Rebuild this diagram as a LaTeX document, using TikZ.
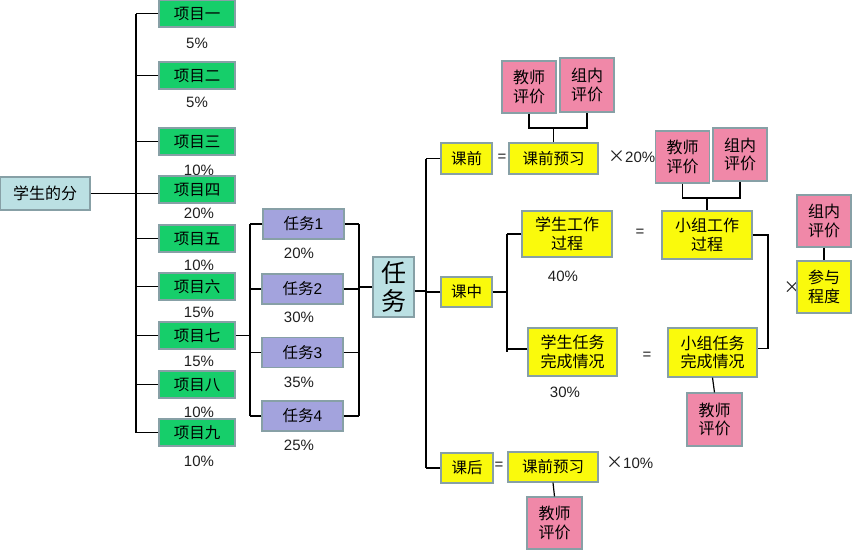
\documentclass[tikz,border=0pt]{standalone}
\usepackage{fontspec}
\setmainfont{Liberation Sans}
\newfontfamily\cjk{Noto Sans CJK SC}
\definecolor{greenc}{RGB}{22,206,106}
\definecolor{yellowc}{RGB}{250,250,12}
\definecolor{pinkc}{RGB}{240,136,168}
\definecolor{purplec}{RGB}{163,163,221}
\definecolor{bluec}{RGB}{187,224,227}
\definecolor{bordc}{RGB}{135,160,166}
\newcommand{\timessym}{{\cjk\fontsize{17}{18}\selectfont ×}}
\tikzset{
  boxbase/.style={draw=bordc, line width=1.1pt, inner sep=0pt, align=center,
    font=\fontsize{15.5}{18.5}\selectfont\cjk},
  gbox/.style={boxbase, fill=greenc, minimum width=76, minimum height=27},
  tbox/.style={boxbase, fill=purplec, minimum width=81, minimum height=30},
  ybox/.style={boxbase, fill=yellowc},
  pbox/.style={boxbase, fill=pinkc, minimum width=54, minimum height=52,
    font=\fontsize{16}{18.5}\selectfont\cjk},
  bbox/.style={boxbase, fill=bluec},
  pct/.style={inner sep=0pt, font=\fontsize{15}{18}\selectfont, text=black!88},
  conn/.style={line width=1.2pt, black},
}
\begin{document}
\begin{tikzpicture}[x=1pt,y=-1pt]
\fill[white] (0,0) rectangle (852,550);
\useasboundingbox (0,0) rectangle (852,550);

% percentages for projects (drawn first, boxes may overlap)
\node[pct] (q1) at (197,43) {5\%};
\node[pct] (q2) at (197,102) {5\%};
\node[pct] (q3) at (199,170) {10\%};
\node[pct] (q4) at (199,213) {20\%};
\node[pct] (q5) at (199,265) {10\%};
\node[pct] (q6) at (199,312) {15\%};
\node[pct] (q7) at (199,361) {15\%};
\node[pct] (q8) at (199,412) {10\%};
\node[pct] (q9) at (199,461) {10\%};

% student score
\node[bbox, minimum width=90, minimum height=33, font=\fontsize{16}{18}\selectfont\cjk] (stu) at (45,193.5) {学生的分};

% projects
\node[gbox] (p1) at (197,13.5) {项目一};
\node[gbox] (p2) at (197,75.5) {项目二};
\node[gbox] (p3) at (197,141.5) {项目三};
\node[gbox] (p4) at (197,189.5) {项目四};
\node[gbox] (p5) at (197,238.5) {项目五};
\node[gbox] (p6) at (197,286.5) {项目六};
\node[gbox] (p7) at (197,335.5) {项目七};
\node[gbox] (p8) at (197,384.5) {项目八};
\node[gbox] (p9) at (197,432.5) {项目九};

\coordinate (busA) at (136,0);
\draw[conn] (p1.west -| busA) -- (p9.west -| busA);
\foreach \i in {1,2,3,5,6,7,8,9} {\draw[conn] (p\i.west) -- (p\i.west -| busA);}
\draw[conn] (stu.east) -- (stu.east -| p4.west);

% tasks
\node[tbox] (t1) at (303.5,224) {任务{\rmfamily 1}};
\node[tbox] (t2) at (302.5,289) {任务{\rmfamily 2}};
\node[tbox] (t3) at (302.5,352.5) {任务{\rmfamily 3}};
\node[tbox] (t4) at (302.5,416) {任务{\rmfamily 4}};
\node[pct] (r1) at (299,253) {20\%};
\node[pct] (r2) at (299,317) {30\%};
\node[pct] (r3) at (299,382) {35\%};
\node[pct] (r4) at (299,445) {25\%};

\coordinate (busB) at (250,0);
\coordinate (busC) at (359,0);
\draw[conn] (p7.east) -- (p7.east -| busB);
\draw[conn] (t1.west -| busB) -- (t4.west -| busB);
\draw[conn] (t1.east -| busC) -- (t4.east -| busC);
\foreach \i in {1,2,3,4} {
  \draw[conn] (t\i.west) -- (t\i.west -| busB);
  \draw[conn] (t\i.east) -- (t\i.east -| busC);
}

% big task box
\node[bbox, minimum width=41, minimum height=60, font=\fontsize{25}{28}\selectfont\cjk] (task) at (393.5,287) {任\\务};
\draw[conn] (task.west) -- (task.west -| busC);

% phases
\node[ybox, minimum width=51, minimum height=31] (pre) at (466.5,158.5) {课前};
\node[ybox, minimum width=51, minimum height=30] (mid) at (466.5,292) {课中};
\node[ybox, minimum width=52, minimum height=30] (post) at (467,468) {课后};
\coordinate (busD) at (426,0);
\draw[conn] (pre.west -| busD) -- (post.west -| busD);
\draw[conn] (pre.west) -- (pre.west -| busD);
\draw[conn] (mid.west) -- (mid.west -| busD);
\draw[conn] (post.west) -- (post.west -| busD);
\draw[conn] ([yshift=-4pt]task.east) -- ([yshift=-4pt]task.east -| busD);

% before class
\node[pct] (eq1) at (502,158) {=};
\node[ybox, minimum width=89, minimum height=31] (prev) at (553.5,158.5) {课前预习};
\node[pct, anchor=west] (x20) at (608,157) {\timessym20\%};
\node[pbox] (te1) at (529,87) {教师\\评价};
\node[pbox, minimum height=54] (gr1) at (587,85) {组内\\评价};
\coordinate (f1) at (0,128);
\draw[conn] (te1.south) -- (te1.south |- f1) -- (gr1.south |- f1) -- (gr1.south);
\draw[conn] (prev.north) -- (prev.north |- f1);

% in class
\coordinate (busE) at (507,0);
\node[ybox, minimum width=90, minimum height=46, font=\fontsize{16}{18.5}\selectfont\cjk] (sw) at (567,234) {学生工作\\过程};
\node[ybox, minimum width=89, minimum height=48, font=\fontsize{16}{18.5}\selectfont\cjk] (st) at (572.5,352) {学生任务\\完成情况};
\draw[conn] (mid.east) -- (mid.east -| busE);
\draw[conn] (sw.west -| busE) -- (st.west -| busE);
\draw[conn] (sw.west) -- (sw.west -| busE);
\draw[conn] ([yshift=3pt]st.west) -- ([yshift=3pt]st.west -| busE);
\node[pct] (r40) at (563,276) {40\%};
\node[pct] (r30) at (565,392) {30\%};
\node[pct] (eq2) at (640,233) {=};
\node[pct] (eq3) at (647,356) {=};

\node[ybox, minimum width=90, minimum height=48, font=\fontsize{16}{18.5}\selectfont\cjk] (gw) at (707,235) {小组工作\\过程};
\node[ybox, minimum width=89, minimum height=49, font=\fontsize{16}{18.5}\selectfont\cjk] (gt) at (712.5,352.5) {小组任务\\完成情况};
\node[pbox] (te2) at (682.5,157) {教师\\评价};
\node[pbox, minimum height=53] (gr2) at (740,154.5) {组内\\评价};
\coordinate (f2) at (0,198);
\draw[conn] (te2.south) -- (te2.south |- f2) -- (gr2.south |- f2) -- (gr2.south);
\draw[conn] (gw.north) -- (gw.north |- f2);
\node[pbox, minimum width=55, minimum height=53] (te3) at (714.5,419.5) {教师\\评价};
\draw[conn] (gt.south) -- (te3.north);
\coordinate (busF) at (768,0);
\draw[conn] (gw.east) -- (gw.east -| busF) -- ([yshift=4pt]gt.east -| busF) -- ([yshift=4pt]gt.east);

\node[pct] (x1) at (792,288) {\timessym};
\node[pbox] (gr3) at (824,221) {组内\\评价};
\node[ybox, minimum width=54, minimum height=52, font=\fontsize{16}{18.5}\selectfont\cjk] (part) at (824,287) {参与\\程度};
\draw[conn] (gr3.south) -- (part.north);

% after class
\node[pct] (eq4) at (499,466) {=};
\node[ybox, minimum width=90, minimum height=30] (prev2) at (553,467) {课前预习};
\node[pct, anchor=west] (x10) at (606,463) {\timessym10\%};
\node[pbox, minimum width=55] (te4) at (554.5,523) {教师\\评价};
\draw[conn] (prev2.south) -- (te4.north);
\end{tikzpicture}
\end{document}
